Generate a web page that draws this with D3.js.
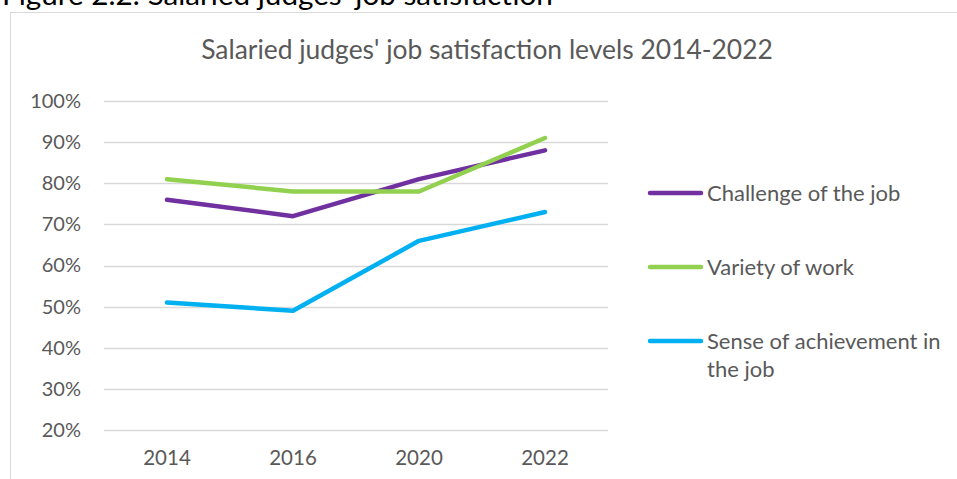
<!DOCTYPE html>
<html>
<head>
<meta charset="utf-8">
<script src="https://cdn.jsdelivr.net/npm/d3@7"></script>
<style>
  body { margin: 0; background: #fff; }
  svg { display: block; font-family: Lato, "Open Sans", sans-serif; }
</style>
</head>
<body>
<div id="chart"></div>
<script>
var w = 957
var h = 479

// data
var years = ['2014', '2016', '2020', '2022']
var challenge = [0.76, 0.72, 0.81, 0.88]
var variety = [0.81, 0.78, 0.78, 0.91]
var achievement = [0.51, 0.49, 0.66, 0.73]
var seriesNames = ['Challenge of the job', 'Variety of work', 'Sense of achievement in the job']
var yTicks = [0.2, 0.3, 0.4, 0.5, 0.6, 0.7, 0.8, 0.9, 1.0]

var colors = ['#7030a0', '#92d050', '#00b0f0']
var series = [challenge, variety, achievement]

var svg = d3.select('#chart')
  .append('svg')
  .attr('width', w)
  .attr('height', h)

// scale a text's font size so it spans roughly the width seen in the original
// (the original font is Calibri, which is not installed)
function fitWidth (sel, target) {
  var node = sel.node()
  var size = parseFloat(sel.attr('font-size'))
  var len = node.getComputedTextLength()
  sel.attr('font-size', (size * target / len).toFixed(2))
}

// page heading (cut off at top in the original)
var heading = svg.append('text')
  .attr('x', 2)
  .attr('y', 5)
  .attr('font-size', 23)
  .attr('fill', '#000')
  .text("Figure 2.2: Salaried judges' job satisfaction")
fitWidth(heading, 551)

// chart frame
svg.append('rect')
  .attr('x', 10.5)
  .attr('y', 12.5)
  .attr('width', w)
  .attr('height', h)
  .attr('fill', 'none')
  .attr('stroke', '#d9d9d9')

var title = svg.append('text')
  .attr('x', 487)
  .attr('y', 59)
  .attr('text-anchor', 'middle')
  .attr('font-size', 22)
  .attr('fill', '#595959')
  .text("Salaried judges' job satisfaction levels 2014-2022")
fitWidth(title, 572)

var left = 104
var right = 608
var x = d3.scaleBand().domain(years).range([left, right])
var y = d3.scaleLinear().domain([0.2, 1.0]).range([430, 101])

// gridlines
svg.append('g')
  .selectAll('line')
  .data(yTicks)
  .enter()
  .append('line')
  .attr('x1', left)
  .attr('x2', right)
  .attr('y1', function (d) { return Math.round(y(d)) + 0.5 })
  .attr('y2', function (d) { return Math.round(y(d)) + 0.5 })
  .attr('stroke', '#d9d9d9')
  .attr('stroke-width', 1.5)

// y axis labels
var yAxis = d3.axisLeft(y)
  .tickValues(yTicks)
  .tickFormat(d3.format('.0%'))
  .tickSize(0)
  .tickPadding(0)
svg.append('g')
  .attr('transform', 'translate(81,0)')
  .call(yAxis)
  .call(function (g) { g.select('.domain').remove() })
  .selectAll('text')
  .attr('font-size', 20)
  .attr('font-family', 'Lato, sans-serif')
  .attr('fill', '#595959')

// x axis labels
var xAxis = d3.axisBottom(x).tickSize(0).tickPadding(0)
svg.append('g')
  .attr('transform', 'translate(0,450)')
  .call(xAxis)
  .call(function (g) { g.select('.domain').remove() })
  .selectAll('text')
  .attr('font-size', 20.5)
  .attr('font-family', 'Lato, sans-serif')
  .attr('fill', '#595959')

var line = d3.line()
  .x(function (d, i) { return x(years[i]) + x.bandwidth() / 2 })
  .y(function (d) { return y(d) })

svg.selectAll('path.series')
  .data(series)
  .enter()
  .append('path')
  .attr('class', 'series')
  .attr('d', function (d) { return line(d) })
  .attr('fill', 'none')
  .attr('stroke', function (d, i) { return colors[i] })
  .attr('stroke-width', 4.5)
  .attr('stroke-linecap', 'round')
  .attr('stroke-linejoin', 'round')

// legend
var legendY = [193, 267, 341]
var legend = svg.append('g')
seriesNames.forEach(function (name, i) {
  legend.append('line')
    .attr('x1', 650)
    .attr('x2', 701)
    .attr('y1', legendY[i])
    .attr('y2', legendY[i])
    .attr('stroke', colors[i])
    .attr('stroke-width', 4.5)
    .attr('stroke-linecap', 'round')
  var lines = i === 2 ? ['Sense of achievement in', 'the job'] : [name]
  var t = legend.append('text')
    .attr('x', 707)
    .attr('y', legendY[i] + 8)
    .attr('font-size', 22)
    .attr('fill', '#595959')
  lines.forEach(function (l, j) {
    t.append('tspan')
      .attr('x', 707)
      .attr('dy', j === 0 ? 0 : 28)
      .text(l)
  })
})
</script>
</body>
</html>
